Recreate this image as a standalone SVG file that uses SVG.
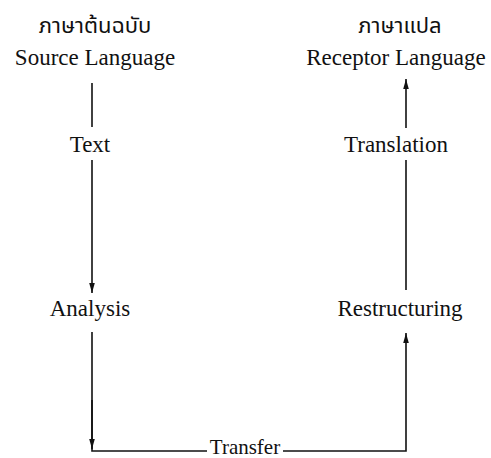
<svg xmlns="http://www.w3.org/2000/svg" width="491" height="458" viewBox="0 0 491 458">
<style>
text{font-family:"Liberation Serif","Times New Roman",serif;font-size:23px;fill:#111;text-anchor:middle}
.th{font-family:"Noto Sans Thai","Noto Serif Thai","Liberation Serif","DejaVu Sans",serif;font-size:22px}
.c{stroke:#111;stroke-width:1.6;fill:none}
</style>
<defs>
<marker id="ah" viewBox="0 0 10 10" refX="10" refY="5" markerWidth="10" markerHeight="10" markerUnits="userSpaceOnUse" orient="auto">
<path d="M0,2.2 L10,5 L0,7.8 Z" fill="#111"/>
</marker>
</defs>
<rect width="491" height="458" fill="#fff"/>
<g id="source">
<text class="th" x="95" y="33">ภาษาต้นฉบับ</text>
<text x="95" y="65">Source Language</text>
</g>
<g id="receptor">
<text class="th" x="400" y="33">ภาษาแปล</text>
<text x="396" y="65">Receptor Language</text>
</g>
<g id="text"><text x="90" y="152">Text</text></g>
<g id="translation"><text x="396" y="152">Translation</text></g>
<g id="analysis"><text x="90" y="316">Analysis</text></g>
<g id="restructuring"><text x="400" y="316">Restructuring</text></g>
<g id="transfer"><text x="245" y="454" style="font-size:21px">Transfer</text></g>
<g id="connectors">
<line class="c" x1="92" y1="83" x2="92" y2="127"/>
<line class="c" x1="92" y1="160" x2="92" y2="293" marker-end="url(#ah)"/>
<polyline class="c" points="92,332 92,451 207,451"/>
<line class="c" x1="92" y1="400" x2="92" y2="449" marker-end="url(#ah)"/>
<polyline class="c" points="283,451 406,451 406,333" marker-end="url(#ah)"/>
<line class="c" x1="406" y1="290" x2="406" y2="160"/>
<line class="c" x1="406" y1="128" x2="406" y2="79" marker-end="url(#ah)"/>
</g>
</svg>
